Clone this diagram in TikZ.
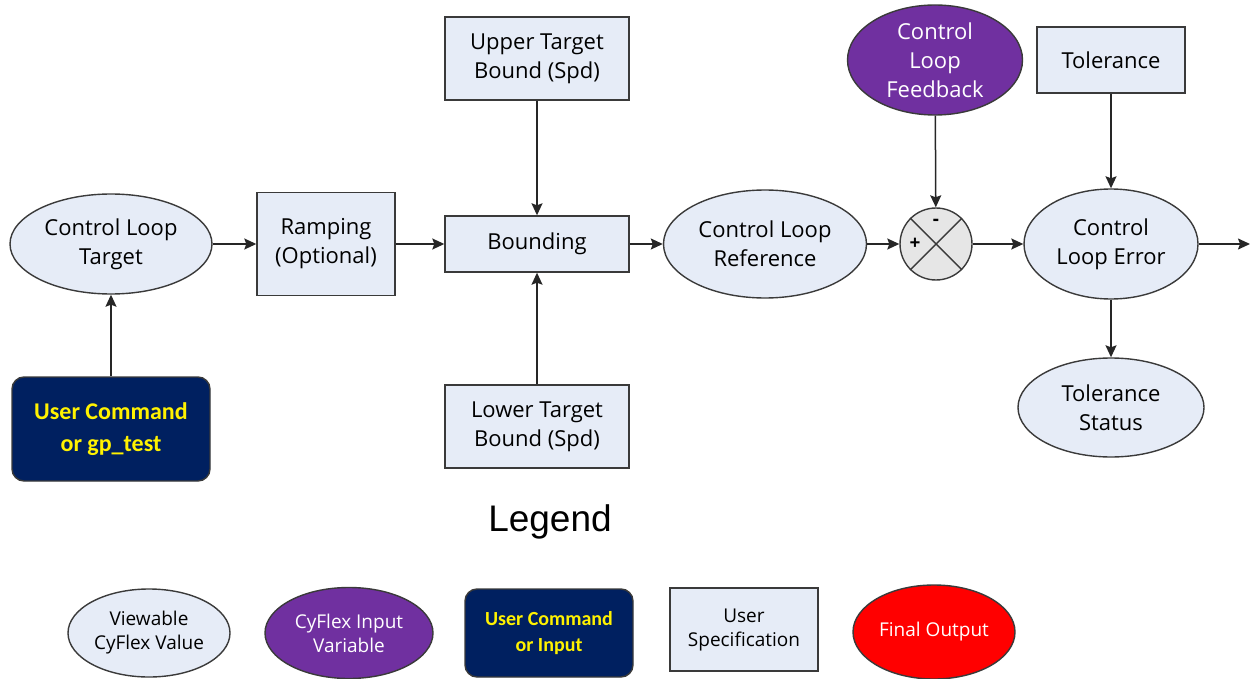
\documentclass[tikz,border=0pt]{standalone}
\usepackage{fontspec}
\setmainfont{Open Sans}
\newfontfamily\legfont{Liberation Sans}
\newfontfamily\cmdfont{Carlito}
\usetikzlibrary{shapes.geometric,arrows.meta}
\definecolor{lightfill}{HTML}{E6ECF7}
\definecolor{cfpurple}{HTML}{7030A0}
\definecolor{navy}{HTML}{002060}
\definecolor{sumgray}{HTML}{E6E6E6}
\definecolor{edgegray}{HTML}{3A3A3A}
\tikzset{
  every node/.style={font=\fontsize{22}{29}\selectfont, align=center, inner sep=0pt},
  viewable/.style={ellipse, draw=edgegray, line width=1.4pt, fill=lightfill},
  inputvar/.style={ellipse, draw=edgegray, line width=1.4pt, fill=cfpurple, text=white},
  usercmd/.style={rectangle, rounded corners=12pt, draw=edgegray, line width=1.4pt, fill=navy, text=yellow, font=\cmdfont\bfseries\fontsize{24}{32}\selectfont},
  userspec/.style={rectangle, draw=edgegray, line width=1.4pt, fill=lightfill},
  finalout/.style={ellipse, draw=edgegray, line width=1.4pt, fill=red, text=white},
  legendtext/.style={font=\fontsize{19}{24}\selectfont},
  link/.style={draw=black!85, line width=1.5pt, -{Stealth[length=12pt,width=11pt,inset=2pt]}}
}
\begin{document}
\begin{tikzpicture}[x=1pt,y=-1pt]
\useasboundingbox (0,0) rectangle (1250,679);
% main diagram
\node[viewable, minimum width=202pt, minimum height=100pt] (target) at (111,244) {Control Loop\\Target};
\node[userspec, minimum width=138pt, minimum height=103pt] (ramp) at (326,244) {Ramping\\(Optional)};
\node[userspec, minimum width=184pt, minimum height=56pt] (bound) at (537,244) {Bounding};
\node[userspec, minimum width=184pt, minimum height=83pt] (upper) at (537,58.5) {Upper Target\\Bound (Spd)};
\node[userspec, minimum width=184pt, minimum height=83pt] (lower) at (537,426.5) {Lower Target\\Bound (Spd)};
\node[viewable, minimum width=203pt, minimum height=108pt] (ref) at (765,244) {Control Loop\\Reference};
\node[circle, draw=edgegray, line width=1.4pt, fill=sumgray, minimum size=72pt] (sum) at (936,244) {};
\draw[edgegray, line width=1.4pt] (sum.45) -- (sum.225) (sum.135) -- (sum.315);
\node[font=\bfseries\fontsize{19}{19}\selectfont] (minus) at (936,222) {-};
\node[font=\bfseries\fontsize{19}{19}\selectfont] (plus) at (915,244) {+};
\node[inputvar, minimum width=175pt, minimum height=110pt] (fb) at (935,60) {Control\\Loop\\Feedback};
\node[userspec, minimum width=148pt, minimum height=66pt] (tol) at (1111,60) {Tolerance};
\node[viewable, minimum width=174pt, minimum height=110pt] (err) at (1111,244) {Control\\Loop Error};
\node[viewable, minimum width=186pt, minimum height=99pt] (stat) at (1111,407.5) {Tolerance\\Status};
\node[usercmd, minimum width=198pt, minimum height=104pt] (cmd) at (111,429) {User Command\\or gp\_test};
\coordinate (out) at (1250,244);
% connectors
\draw[link] (target) -- (ramp);
\draw[link] (ramp) -- (bound);
\draw[link] (upper) -- (bound);
\draw[link] (lower) -- (bound);
\draw[link] (bound) -- (ref);
\draw[link] (ref) -- (sum);
\draw[link] (fb) -- (sum);
\draw[link] (sum) -- (err);
\draw[link] (tol) -- (err);
\draw[link] (err) -- (stat);
\draw[link] (err) -- (out);
\draw[link] (cmd) -- (target);
% legend
\node[font=\legfont\fontsize{37}{40}\selectfont] (legend) at (550,522) {Legend};
\node[viewable, legendtext, minimum width=162pt, minimum height=88pt] (lview) at (149,633) {Viewable\\CyFlex Value};
\node[inputvar, legendtext, minimum width=168pt, minimum height=91pt] (linput) at (349,633) {CyFlex Input\\Variable};
\node[usercmd, font=\cmdfont\bfseries\fontsize{20}{26}\selectfont, minimum width=168pt, minimum height=88pt] (lcmd) at (549,633) {User Command\\or Input};
\node[userspec, legendtext, minimum width=148pt, minimum height=83pt] (lspec) at (744,629.5) {User\\Specification};
\node[finalout, legendtext, minimum width=162pt, minimum height=94pt] (lout) at (934,632) {Final Output};
\end{tikzpicture}
\end{document}
